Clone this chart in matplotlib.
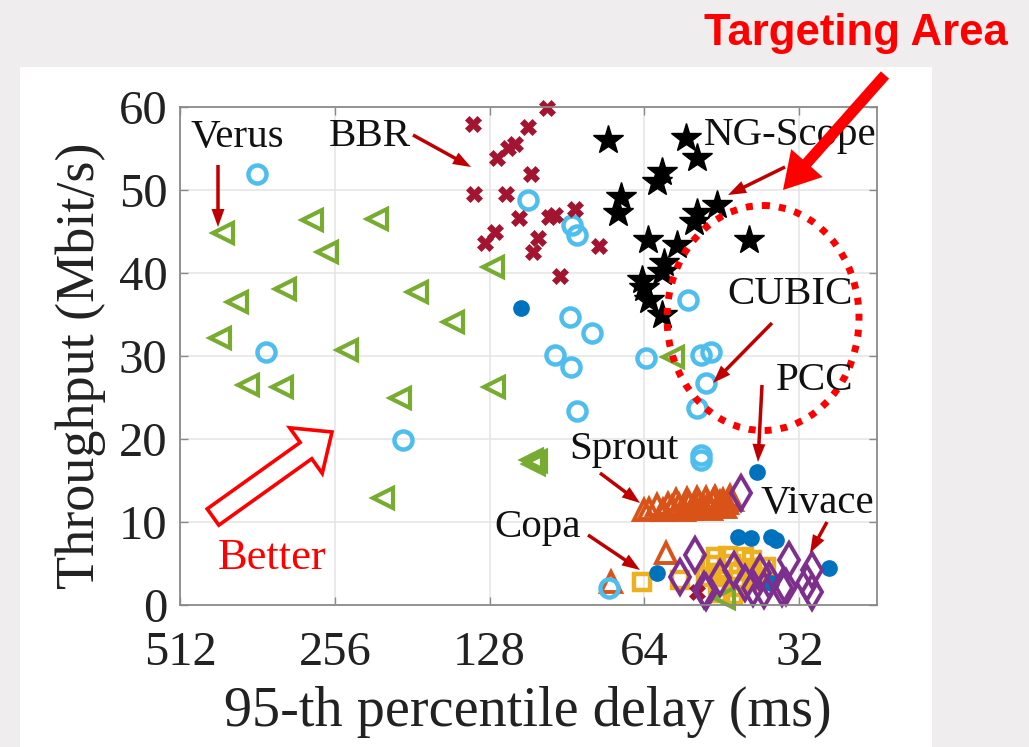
import numpy as np
import matplotlib
matplotlib.use("Agg")
import matplotlib.pyplot as plt
from matplotlib.patches import Polygon, Rectangle, Ellipse
from matplotlib.transforms import Affine2D
from matplotlib.ticker import NullLocator

W, H = 1029, 747

# ---- measurements: 95th percentile delay (ms) vs throughput (Mbit/s) ----
verus_delay = [422, 283, 212, 265, 397, 320, 428, 177, 151, 242, 378, 325, 191,
               206, 125.5, 126, 106, 105, 104, 56.4, 44.8]
verus_tput = [44.8, 46.4, 46.5, 42.5, 36.5, 38.1, 32.2, 37.7, 34.1, 30.7, 26.5,
              26.3, 24.9, 12.9, 26.3, 40.7, 17.5, 17.0, 17.3, 29.9, 0.8]

cubic_delay = [362, 349, 189, 108, 88.7, 86.7, 52.7, 89.5, 80.8, 95.7, 89, 63.6,
               49.6, 47.5, 48.5, 50.5, 86.6, 49.6, 49.6, 74.9]
cubic_tput = [51.9, 30.5, 19.9, 48.8, 45.8, 44.6, 36.7, 34.7, 32.8, 30.1, 28.7,
              29.8, 30.1, 30.5, 26.7, 23.7, 23.4, 18.1, 17.5, 2.0]

bbr_delay = [138, 98.8, 108, 114.5, 118, 124, 106.5, 137, 119, 112, 98, 95.7,
             87.4, 103, 105.6, 125, 130.7, 78.3, 93.6, 50.5]
bbr_tput = [58.0, 59.9, 57.6, 55.5, 55.1, 53.9, 51.9, 49.5, 49.5, 46.6, 46.8,
            47.0, 47.7, 44.2, 42.5, 44.9, 43.6, 43.3, 39.6, 1.6]

ngscope_delay = [75.2, 53.1, 50.5, 59.3, 60.4, 71, 72, 46.2, 50.5, 51.2, 40,
                 63.1, 55.3, 58.6, 59.3, 64.8, 64, 62.6, 59.3]
ngscope_tput = [56.0, 56.3, 53.9, 52.2, 51.0, 49.2, 47.2, 48.2, 47.2, 46.1, 44.0,
                44.0, 43.4, 41.2, 40.1, 39.2, 38.2, 36.7, 34.9]

sprout_delay = [64.0, 62.6, 60.6, 58.9, 57.5, 56.5, 54.9, 53.6, 52.5, 51.3, 50.2,
                49.1, 48.2, 47.1, 46.1, 45.1, 44.2, 43.2, 55.5, 53.0, 51.8, 50.7,
                49.6, 48.6, 47.6, 46.6, 45.6, 44.7, 43.7, 58.1, 74.3]
sprout_tput = [11.4, 11.6, 12.1, 11.5, 12.2, 11.8, 12.0, 11.5, 12.3, 11.9, 12.4,
               11.7, 12.2, 12.5, 11.9, 12.6, 12.3, 12.7, 12.6, 12.8, 11.6, 12.9,
               11.8, 12.9, 11.6, 13.0, 12.4, 11.8, 13.1, 6.3, 2.8]

copa_delay = [64.8, 46.5, 45.1, 48.5, 39.6, 38.2, 45.7, 41.8, 54.7, 37.2, 43.5,
              40.5, 47.5, 44.0, 42.5, 40.0, 46.0, 43.0, 41.0, 39.0]
copa_tput = [2.8, 5.8, 3.9, 3.4, 5.4, 3.4, 1.4, 2.2, 3.0, 4.6, 5.0, 4.2, 4.8,
             5.9, 3.0, 4.5, 2.4, 1.2, 5.8, 2.9]

pcc_delay = [38.7, 111, 42.2, 39.8, 36.3, 35.5, 28.0, 36.3, 60.4]
pcc_tput = [16.0, 35.8, 8.2, 8.1, 8.2, 7.8, 4.5, 2.7, 3.9]

vivace_delay = [41.5, 51.0, 54.7, 45.7, 42.8, 39.4, 38.2, 49.1, 48.5, 33.5, 34.0,
                30.2, 30.2, 34.6, 30.9, 40.8, 37.5, 36.6]
vivace_tput = [13.5, 6.0, 3.4, 3.3, 4.2, 2.0, 3.9, 1.8, 1.6, 5.4, 2.2, 4.2, 1.6,
               2.0, 2.6, 2.7, 1.8, 3.0]

delay_ticks = [512, 256, 128, 64, 32]
delay_ticklabels = ["512", "256", "128", "64", "32"]
tput_ticks = [0, 10, 20, 30, 40, 50, 60]

plt.rcParams["font.family"] = ["Liberation Serif", "DejaVu Serif"]

fig = plt.figure(figsize=(W / 100, H / 100), dpi=100)
fig.patch.set_facecolor("#efeded")

# pixel-space transform (origin top-left) for panel decorations
pix = Affine2D().scale(1.0 / W, -1.0 / H).translate(0, 1) + fig.transFigure

fig.add_artist(Rectangle((20, 67), 912, 690, transform=pix, facecolor="white",
                         edgecolor="none", zorder=-5))

ax = fig.add_axes([180 / W, 1 - 605 / H, 697 / W, 498 / H])
ax.set_facecolor("white")
ax.set_xscale("log", base=2)
ax.set_xlim(512, 22.6)
ax.set_ylim(0, 60)
ax.set_xticks(delay_ticks)
ax.set_xticklabels(delay_ticklabels)
ax.xaxis.set_minor_locator(NullLocator())
ax.set_yticks(tput_ticks)
ax.grid(True, color="#e4e4e4", lw=1.1)
ax.set_axisbelow(True)
for s in ax.spines.values():
    s.set_color("#8a8a8a")
    s.set_linewidth(1.3)
ax.tick_params(direction="in", length=6, width=1, color="#8a8a8a", top=True,
               right=True, labelsize=35, labelcolor="#222222")
ax.tick_params(axis="x", pad=19)
ax.tick_params(axis="y", pad=9)

common = dict(linestyle="none", clip_on=False)
ax.plot(copa_delay, copa_tput, marker="s", ms=12, mfc="none", mec="#edb120",
        mew=3.2, **common)
ax.plot(sprout_delay, sprout_tput, marker="^", ms=14, mfc="none", mec="#d95319",
        mew=2.8, **common)
ax.plot(verus_delay, verus_tput, marker="<", ms=15, mfc="none", mec="#77ac30",
        mew=3.0, **common)
ax.plot(cubic_delay, cubic_tput, marker="o", ms=13, mfc="none", mec="#4dbeee",
        mew=3.2, **common)
ax.plot(bbr_delay, bbr_tput, marker="X", ms=11, mfc="#a2142f", mec="#a2142f",
        mew=0.5, **common)
ax.plot(pcc_delay, pcc_tput, marker="o", ms=11, mfc="#0072bd", mec="#0072bd",
        mew=1, **common)
ax.plot(vivace_delay, vivace_tput, marker="d", ms=17, mfc="none", mec="#7e2f8e",
        mew=2.8, **common)
ax.plot(ngscope_delay, ngscope_tput, marker="*", ms=22, mfc="black", mec="black",
        mew=1, **common)


def arrow(x0, y0, x1, y1, shaft, hw, hl, fc, ec=None, lw=0, z=6):
    p0 = np.array([x0, y0], float)
    p1 = np.array([x1, y1], float)
    u = (p1 - p0) / np.linalg.norm(p1 - p0)
    n = np.array([-u[1], u[0]])
    b = p1 - u * hl
    pts = [p0 + n * shaft / 2, b + n * shaft / 2, b + n * hw / 2, p1,
           b - n * hw / 2, b - n * shaft / 2, p0 - n * shaft / 2]
    fig.add_artist(Polygon(pts, closed=True, transform=pix, facecolor=fc,
                           edgecolor=ec if ec else fc, lw=lw, zorder=z,
                           joinstyle="miter"))


def label(x, y, s, size=29.5, color="#111111", **kw):
    fig.text(x / W, 1 - y / H, s, ha="center", va="center", fontsize=size,
             color=color, zorder=7, **kw)


dark = "#c00000"
label(237, 137, "Verus")
arrow(218, 165, 218, 227, 3.5, 13, 18, dark)
label(370, 137, "BBR")
arrow(413, 135, 471, 167, 3.5, 13, 18, dark)
label(790, 136, "NG-Scope")
arrow(785, 167, 728, 195, 3.5, 13, 18, dark)
label(790, 294, "CUBIC")
arrow(772, 323, 713, 383, 3.5, 13, 18, dark)
label(815, 381, "PCC")
arrow(762, 385, 758, 462, 3.5, 13, 18, dark)
label(624, 449, "Sprout")
arrow(600, 473, 640, 503, 3.5, 13, 18, dark)
label(817, 503, "Vivace")
arrow(827, 522, 810, 553, 3.5, 13, 18, dark)
label(538, 527, "Copa")
arrow(588, 535, 640, 570, 3.5, 13, 18, dark)

# hollow "better" arrow
label(272, 558, "Better", size=32, color="#ff0000")
arrow(213, 517, 332, 432, 20, 56, 32, "white", ec="#ff0000", lw=2.6)

# targeting area highlight
fig.add_artist(Ellipse((763, 318), 192, 225, transform=pix, facecolor="none",
                       edgecolor="#ff0000", lw=5, linestyle=(0, (1, 1.3)),
                       zorder=6))
arrow(885, 75, 783, 190, 11, 42, 36, "#ff0000", z=8)
fig.text(856 / W, 1 - 33 / H, "Targeting Area", ha="center", va="center",
         fontsize=31.5, color="#ff0000", fontweight="bold",
         family=["Liberation Sans", "DejaVu Sans"])

# axis titles
fig.text(528 / W, 1 - 712 / H, "95-th percentile delay (ms)", ha="center",
         va="center", fontsize=40.5, color="#222222")
fig.text(81 / W, 1 - 366 / H, "Throughput (Mbit/s)", ha="center", va="center",
         rotation=90, fontsize=39, color="#222222")

fig.savefig("out.png", dpi=100, facecolor=fig.get_facecolor())
